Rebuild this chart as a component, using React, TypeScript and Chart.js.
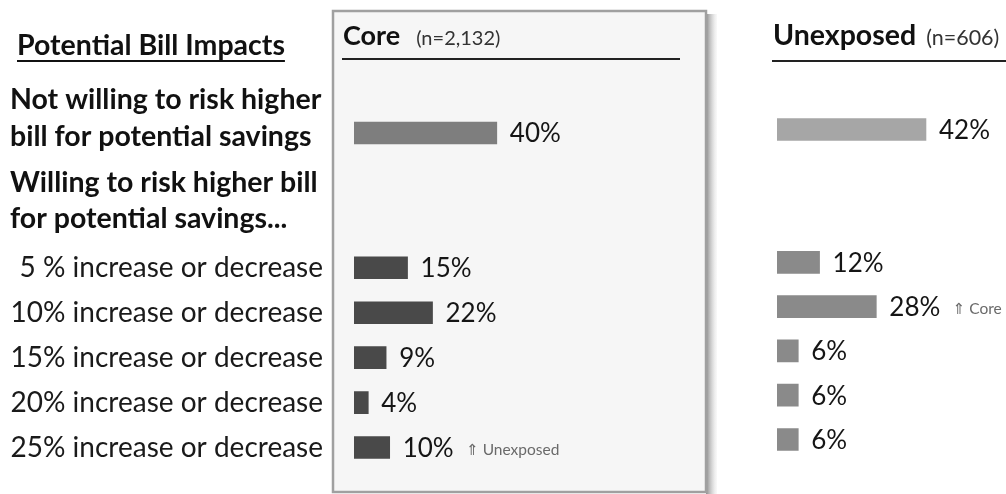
import React, { useEffect, useRef } from "react";
import { Chart, registerables } from "chart.js";

Chart.register(...registerables);

// ---------- data ----------
const rowLabels = [
  "",
  "",
  "",
  "5 % increase or decrease",
  "10% increase or decrease",
  "15% increase or decrease",
  "20% increase or decrease",
  "25% increase or decrease",
];
const coreValues = [40, null, null, 15, 22, 9, 4, 10];
const unexposedValues = [42, null, null, 12, 28, 6, 6, 6];
const coreNotes = [null, null, null, null, null, null, null, "⇑ Unexposed"];
const unexposedNotes = [null, null, null, null, "⇑ Core", null, null, null];
const heading = "Potential Bill Impacts";
const notWillingLines = ["Not willing to risk higher", "bill for potential savings"];
const willingLines = ["Willing to risk higher bill", "for potential savings..."];
const coreTitle = "Core";
const coreN = "(n=2,132)";
const unexposedTitle = "Unexposed";
const unexposedN = "(n=606)";

const FONT = "Lato, 'Open Sans', 'DejaVu Sans', sans-serif";

const coreColors = coreValues.map((_, i) => (i === 0 ? "#7e7e7e" : "#494949"));
const unexposedColors = unexposedValues.map((_, i) => (i === 0 ? "#a6a6a6" : "#8a8a8a"));

// ---------- plugins ----------
const valueLabelPlugin = {
  id: "valueLabels",
  afterDatasetsDraw(chart: any, _args: any, opts: any) {
    const ctx = chart.ctx;
    const meta = chart.getDatasetMeta(0);
    const values = chart.data.datasets[0].data;
    const notes = opts.notes || [];
    ctx.save();
    meta.data.forEach((el: any, i: number) => {
      const v = values[i];
      if (v === null || v === undefined) return;
      const txt = `${v}%`;
      ctx.font = `400 26px ${FONT}`;
      ctx.fillStyle = "#151515";
      ctx.textAlign = "left";
      ctx.textBaseline = "middle";
      const x = el.x + 13;
      ctx.fillText(txt, x, el.y + 1);
      const w = ctx.measureText(txt).width;
      if (notes[i]) {
        ctx.font = `400 15.5px ${FONT}`;
        ctx.fillStyle = "#6a6a6a";
        ctx.fillText(notes[i], x + w + 12, el.y + 2);
      }
    });
    ctx.restore();
  },
};

const headerPlugin = {
  id: "panelHeader",
  afterDraw(chart: any, _args: any, opts: any) {
    const ctx = chart.ctx;
    const { left } = chart.chartArea;
    ctx.save();
    ctx.textBaseline = "alphabetic";
    ctx.textAlign = "left";
    const x = left + opts.titleDx;
    ctx.font = `700 ${opts.titleSize}px ${FONT}`;
    ctx.fillStyle = "#111";
    ctx.fillText(opts.title, x, 45);
    const tw = ctx.measureText(opts.title).width;
    ctx.font = `400 ${opts.nSize}px ${FONT}`;
    ctx.fillStyle = "#333";
    ctx.fillText(opts.n, x + tw + opts.nGap, 45);
    ctx.strokeStyle = "#222";
    ctx.lineWidth = 2;
    ctx.beginPath();
    ctx.moveTo(left + opts.lineX0, opts.lineY);
    ctx.lineTo(opts.lineX1 === undefined ? chart.width : left + opts.lineX1, opts.lineY);
    ctx.stroke();
    ctx.restore();
  },
};

const boxPlugin = {
  id: "coreBox",
  beforeDraw(chart: any) {
    const ctx = chart.ctx;
    const { left, right } = chart.chartArea;
    const x0 = left - 21;
    const x1 = right - 5;
    const y0 = 11;
    const y1 = 492;
    ctx.save();
    const g = ctx.createLinearGradient(x1, 0, x1 + 11, 0);
    g.addColorStop(0, "rgba(120,120,120,0.85)");
    g.addColorStop(1, "rgba(200,200,200,0.1)");
    ctx.fillStyle = g;
    ctx.fillRect(x1, y0 + 3, 11, y1 - y0);
    ctx.fillStyle = "#f6f6f6";
    ctx.fillRect(x0, y0, x1 - x0, y1 - y0);
    ctx.strokeStyle = "#a0a0a0";
    ctx.lineWidth = 2.5;
    ctx.strokeRect(x0, y0, x1 - x0, y1 - y0);
    ctx.restore();
  },
};

const leftTextPlugin = {
  id: "leftText",
  afterDraw(chart: any) {
    const ctx = chart.ctx;
    ctx.save();
    ctx.textAlign = "left";
    ctx.textBaseline = "middle";
    ctx.fillStyle = "#111";
    ctx.font = `700 28.5px ${FONT}`;
    ctx.fillText(heading, 17, 46);
    const hw = ctx.measureText(heading).width;
    ctx.strokeStyle = "#111";
    ctx.lineWidth = 2;
    ctx.beginPath();
    ctx.moveTo(17, 61);
    ctx.lineTo(17 + hw, 61);
    ctx.stroke();
    ctx.fillText(notWillingLines[0], 10, 100);
    ctx.fillText(notWillingLines[1], 10, 137);
    ctx.fillText(willingLines[0], 10, 183);
    ctx.fillText(willingLines[1], 10, 219);
    ctx.restore();
  },
};

// ---------- component ----------
export default function App() {
  const coreRef = useRef<HTMLCanvasElement>(null);
  const unexRef = useRef<HTMLCanvasElement>(null);

  useEffect(() => {
    const core = new Chart(coreRef.current as HTMLCanvasElement, {
      type: "bar",
      data: {
        labels: rowLabels,
        datasets: [
          {
            data: coreValues as any,
            backgroundColor: coreColors,
            barThickness: 22,
            borderWidth: 0,
          },
        ],
      },
      options: {
        indexAxis: "y",
        animation: false,
        responsive: false,
        maintainAspectRatio: false,
        layout: { padding: { top: 110.5, bottom: 24, left: 0, right: 19 } },
        scales: {
          x: { display: false, min: 0, max: 100 },
          y: {
            grid: { display: false, drawTicks: false },
            border: { display: false },
            ticks: {
              autoSkip: false,
              padding: 31,
              color: "#1a1a1a",
              font: { family: FONT, size: 28 },
            },
            afterFit: (s: any) => {
              s.width = 354;
              s.paddingTop = 0;
              s.paddingBottom = 0;
            },
          },
        },
        plugins: {
          legend: { display: false },
          tooltip: { enabled: false },
          valueLabels: { notes: coreNotes },
          panelHeader: {
            title: coreTitle,
            n: coreN,
            titleSize: 27,
            nSize: 20,
            titleDx: -11,
            nGap: 16,
            lineX0: -12,
            lineX1: 326,
            lineY: 59,
          },
        } as any,
      },
      plugins: [boxPlugin, valueLabelPlugin, headerPlugin, leftTextPlugin],
    });

    const unex = new Chart(unexRef.current as HTMLCanvasElement, {
      type: "bar",
      data: {
        labels: rowLabels,
        datasets: [
          {
            data: unexposedValues as any,
            backgroundColor: unexposedColors,
            barThickness: 22,
            borderWidth: 0,
          },
        ],
      },
      options: {
        indexAxis: "y",
        animation: false,
        responsive: false,
        maintainAspectRatio: false,
        layout: { padding: { top: 107.4, bottom: 32.4, left: 47, right: 2 } },
        scales: {
          x: { display: false, min: 0, max: 64 },
          y: { display: false },
        },
        plugins: {
          legend: { display: false },
          tooltip: { enabled: false },
          valueLabels: { notes: unexposedNotes },
          panelHeader: {
            title: unexposedTitle,
            n: unexposedN,
            titleSize: 28.5,
            nSize: 21.5,
            titleDx: -4,
            nGap: 10,
            lineX0: -5,
            lineY: 61,
          },
        } as any,
      },
      plugins: [valueLabelPlugin, headerPlugin],
    });

    return () => {
      core.destroy();
      unex.destroy();
    };
  }, []);

  return (
    <div
      style={{
        position: "absolute",
        left: 0,
        top: 0,
        width: 1006,
        height: 494,
        background: "#ffffff",
        overflow: "hidden",
      }}
    >
      <canvas
        ref={coreRef}
        width={730}
        height={494}
        style={{ position: "absolute", left: 0, top: 0, width: 730, height: 494 }}
      />
      <canvas
        ref={unexRef}
        width={276}
        height={494}
        style={{ position: "absolute", left: 730, top: 0, width: 276, height: 494 }}
      />
    </div>
  );
}
